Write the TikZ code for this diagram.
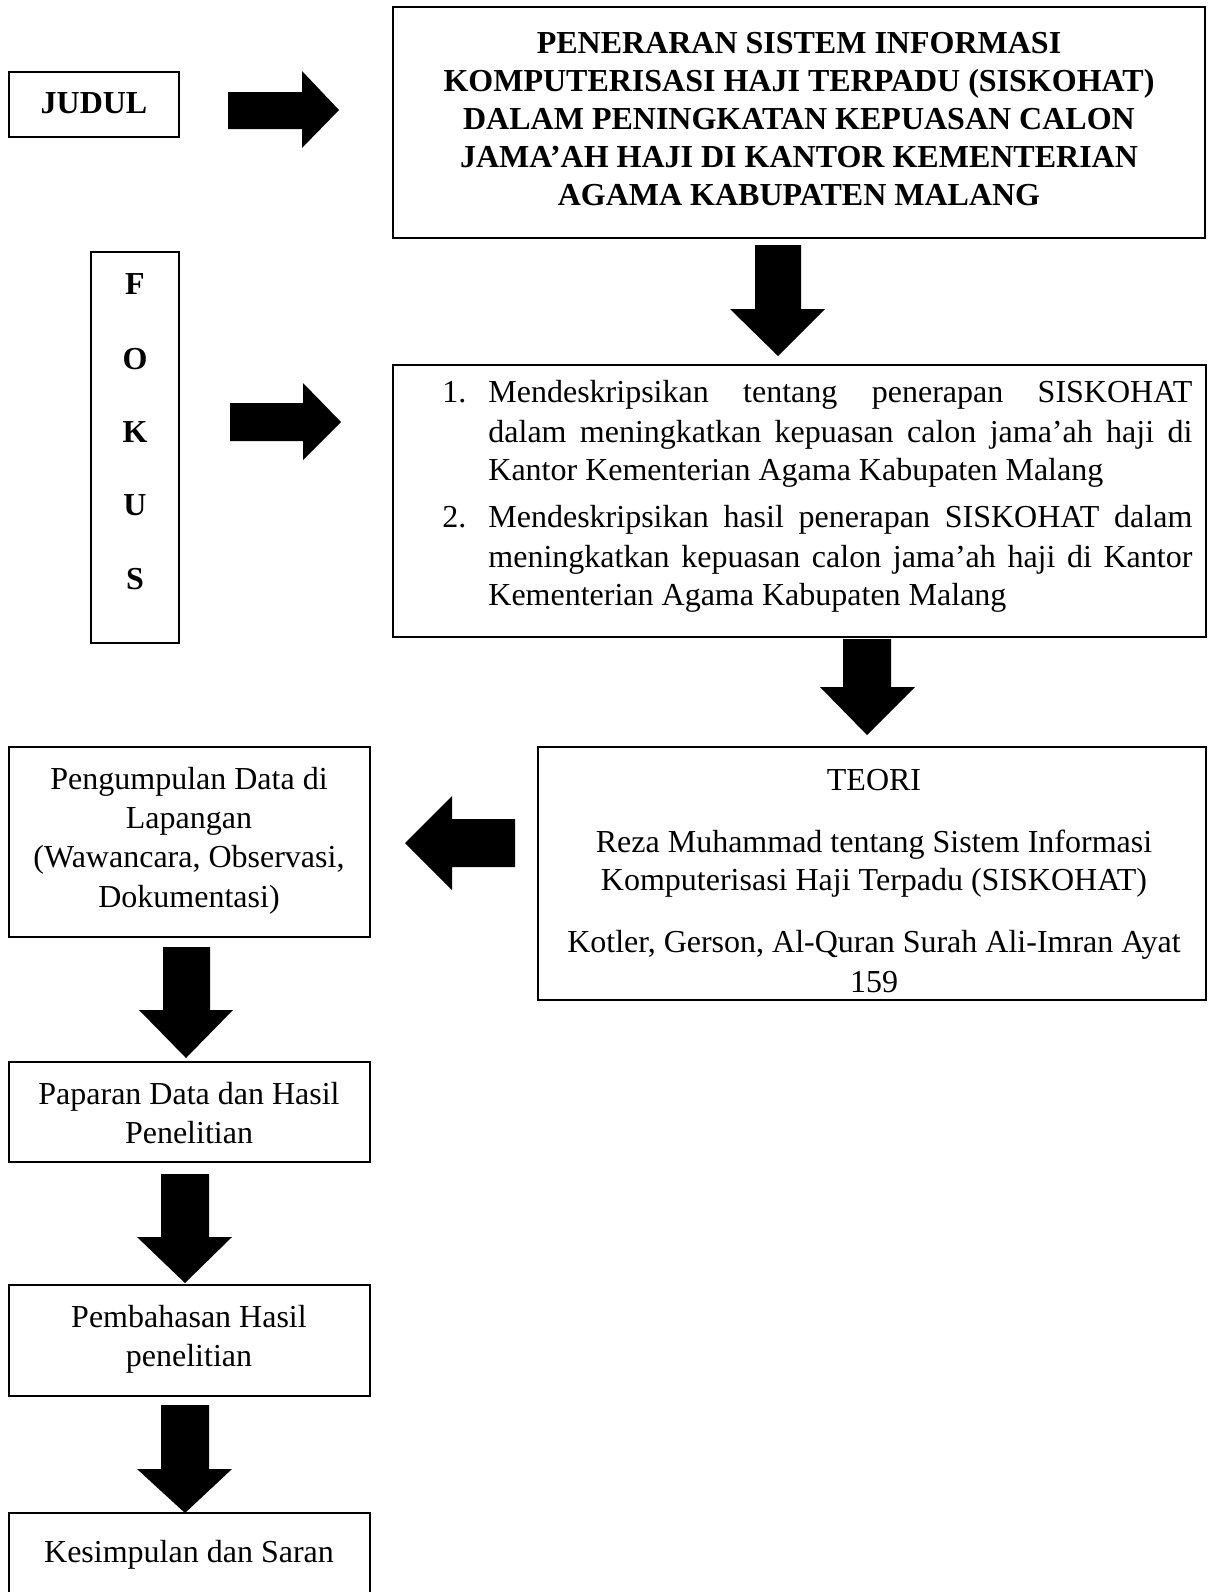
\documentclass[tikz,border=0pt]{standalone}
\usepackage{fontspec}
\setmainfont{Liberation Serif}
\usetikzlibrary{fit}
\begin{document}
\begin{tikzpicture}[x=0.5pt,y=-0.5pt,
  boxnode/.style={draw=black, line width=1.2pt, inner sep=0pt, outer sep=0pt},
  txt/.style={inner sep=0pt, anchor=base, font=\fontsize{16pt}{19pt}\selectfont},
  btxt/.style={inner sep=0pt, anchor=base, font=\fontsize{16pt}{19pt}\selectfont\bfseries},
  ltxt/.style={inner sep=0pt, anchor=base west, font=\fontsize{16pt}{19pt}\selectfont},
  blockarrow/.style={fill=black}]
\clip (0,0) rectangle (1208,1592);
\useasboundingbox (0,0) rectangle (1208,1592);

% boxes
\node[boxnode, fit={(9,72) (179,137)}] (judul) {};
\node[boxnode, fit={(393,7) (1205,238)}] (title) {};
\node[boxnode, fit={(91,252) (179,643)}] (fokus) {};
\node[boxnode, fit={(393,365) (1206,637)}] (list) {};
\node[boxnode, fit={(538,747) (1206,1000)}] (teori) {};
\node[boxnode, fit={(9,747) (370,937)}] (kumpul) {};
\node[boxnode, fit={(9,1062) (370,1162)}] (paparan) {};
\node[boxnode, fit={(9,1285) (370,1396)}] (bahas) {};
\node[boxnode, fit={(9,1513) (370,1640)}] (simpul) {};

% texts
\node[btxt] (tjudul) at (94,113) {JUDUL};

\node[btxt] (ti1) at (799,53) {PENERARAN SISTEM INFORMASI};
\node[btxt] (ti2) at (799,91) {KOMPUTERISASI HAJI TERPADU (SISKOHAT)};
\node[btxt] (ti3) at (799,129) {DALAM PENINGKATAN KEPUASAN CALON};
\node[btxt] (ti4) at (799,167) {JAMA’AH HAJI DI KANTOR KEMENTERIAN};
\node[btxt] (ti5) at (799,205) {AGAMA KABUPATEN MALANG};

\node[btxt] (f1) at (135,294) {F};
\node[btxt] (f2) at (135,369) {O};
\node[btxt] (f3) at (135,442) {K};
\node[btxt] (f4) at (135,515) {U};
\node[btxt] (f5) at (135,589) {S};

\node[ltxt] (n1) at (442,402) {1.};
\node[ltxt] (l1) at (488,402) {\makebox[352pt][s]{Mendeskripsikan tentang penerapan SISKOHAT}};
\node[ltxt] (l2) at (488,442) {\makebox[352pt][s]{dalam meningkatkan kepuasan calon jama’ah haji di}};
\node[ltxt] (l3) at (488,480) {Kantor Kementerian Agama Kabupaten Malang};
\node[ltxt] (n2) at (442,527) {2.};
\node[ltxt] (l4) at (488,527) {\makebox[352pt][s]{Mendeskripsikan hasil penerapan SISKOHAT dalam}};
\node[ltxt] (l5) at (488,567) {\makebox[352pt][s]{meningkatkan kepuasan calon jama’ah haji di Kantor}};
\node[ltxt] (l6) at (488,605) {Kementerian Agama Kabupaten Malang};

\node[txt] (te1) at (874,790) {TEORI};
\node[txt] (te2) at (874,852) {Reza Muhammad tentang Sistem Informasi};
\node[txt] (te3) at (874,890) {Komputerisasi Haji Terpadu (SISKOHAT)};
\node[txt] (te4) at (874,952) {Kotler, Gerson, Al-Quran Surah Ali-Imran Ayat};
\node[txt] (te5) at (874,992) {159};

\node[txt] (k1) at (189,789) {Pengumpulan Data di};
\node[txt] (k2) at (189,828) {Lapangan};
\node[txt] (k3) at (189,867.5) {(Wawancara, Observasi,};
\node[txt] (k4) at (189,907) {Dokumentasi)};

\node[txt] (p1) at (189,1104) {Paparan Data dan Hasil};
\node[txt] (p2) at (189,1143) {Penelitian};

\node[txt] (b1) at (189,1327) {Pembahasan Hasil};
\node[txt] (b2) at (189,1366) {penelitian};

\node[txt] (s1) at (189,1562) {Kesimpulan dan Saran};

% block arrows
\fill[blockarrow] (228,92) -- (302,92) -- (302,71) -- (339,110) -- (302,148) -- (302,129) -- (228,129) -- cycle;
\fill[blockarrow] (230,403) -- (303,403) -- (303,383) -- (341,422) -- (303,460) -- (303,441) -- (230,441) -- cycle;
\fill[blockarrow] (755,245) -- (801,245) -- (801,309) -- (825,309) -- (778,356) -- (730,309) -- (755,309) -- cycle;
\fill[blockarrow] (843,639) -- (891,639) -- (891,687) -- (915,687) -- (867,735) -- (820,687) -- (843,687) -- cycle;
\fill[blockarrow] (515,819) -- (452,819) -- (452,796) -- (405,843) -- (452,890) -- (452,867) -- (515,867) -- cycle;
\fill[blockarrow] (163,947) -- (210,947) -- (210,1010) -- (233,1010) -- (186,1058) -- (139,1010) -- (163,1010) -- cycle;
\fill[blockarrow] (161,1174) -- (209,1174) -- (209,1237) -- (232,1237) -- (185,1283) -- (137,1237) -- (161,1237) -- cycle;
\fill[blockarrow] (161,1405) -- (209,1405) -- (209,1469) -- (232,1469) -- (185,1513) -- (137,1469) -- (161,1469) -- cycle;
\end{tikzpicture}
\end{document}
